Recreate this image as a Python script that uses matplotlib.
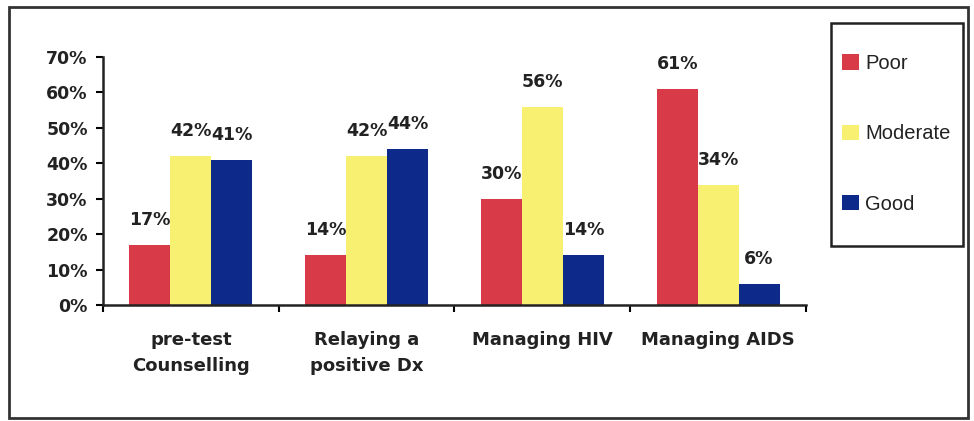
import numpy as np
import matplotlib
matplotlib.use("Agg")
import matplotlib.pyplot as plt
from matplotlib.patches import Rectangle

# data
categories = ["pre-test\nCounselling", "Relaying a\npositive Dx", "Managing HIV", "Managing AIDS"]
series = ["Poor", "Moderate", "Good"]
poor = [17, 14, 30, 61]
moderate = [42, 42, 56, 34]
good = [41, 44, 14, 6]
colors = ["#D93A48", "#F7F070", "#0D2A8A"]

plt.rcParams['font.family'] = ['DejaVu Sans']

fig = plt.figure(figsize=(9.74, 4.21), dpi=100)
ax = fig.add_axes([0.1057, 0.2755, 0.7218, 0.5891])

x = np.arange(len(categories))
w = 0.233
for i, (name, vals, c) in enumerate(zip(series, [poor, moderate, good], colors)):
    pos = x + (i - 1) * w
    ax.bar(pos, np.array(vals) / 100, width=w, color=c, label=name, zorder=2)
    for p, v in zip(pos, vals):
        ax.text(p, v / 100 + 0.045, f"{v}%", ha='center', va='bottom',
                fontsize=12.5, fontweight='bold', color='#222222')

ax.set_xlim(-0.5, 3.5)
ax.set_ylim(0, 0.7)
yt = np.arange(0, 0.71, 0.1)
ax.set_yticks(yt)
ax.set_yticklabels([f"{int(round(t*100))}%" for t in yt],
                   fontsize=12.5, fontweight='bold', color='#222222')
ax.set_xticks(np.arange(-0.5, 3.6, 1))
ax.set_xticklabels([])
ax.set_xticks(x, minor=True)
ax.set_xticklabels(categories, minor=True, fontsize=13, fontweight='bold',
                   color='#222222', linespacing=1.55)
ax.tick_params(axis='x', which='minor', length=0, pad=19)
ax.tick_params(axis='x', which='major', length=5, width=1.5, direction='out')
ax.tick_params(axis='y', length=5, width=1.5, direction='out', pad=6)
for s in ['top', 'right']:
    ax.spines[s].set_visible(False)
for s in ['left', 'bottom']:
    ax.spines[s].set_linewidth(1.8)
    ax.spines[s].set_color('#222222')

# legend without its own frame, box drawn separately
leg = fig.legend(loc='upper left', bbox_to_anchor=(842 / 974, 1 - 54 / 421),
                 bbox_transform=fig.transFigure, frameon=False,
                 prop={'family': 'Liberation Sans', 'size': 14.5},
                 labelspacing=2.55, handlelength=0.85, handleheight=0.8,
                 handletextpad=0.3, borderpad=0, borderaxespad=0)
for t in leg.get_texts():
    t.set_color('#222222')
fig.patches.append(Rectangle((831 / 974, 1 - 246 / 421), 132 / 974, 223 / 421,
                             transform=fig.transFigure, fill=False,
                             edgecolor='#222222', linewidth=1.8))

# outer frame
fig.patches.append(Rectangle((0.009, 0.008), 0.985, 0.976, transform=fig.transFigure,
                             fill=False, edgecolor='#333333', linewidth=2))

fig.savefig("out.png", dpi=100)
